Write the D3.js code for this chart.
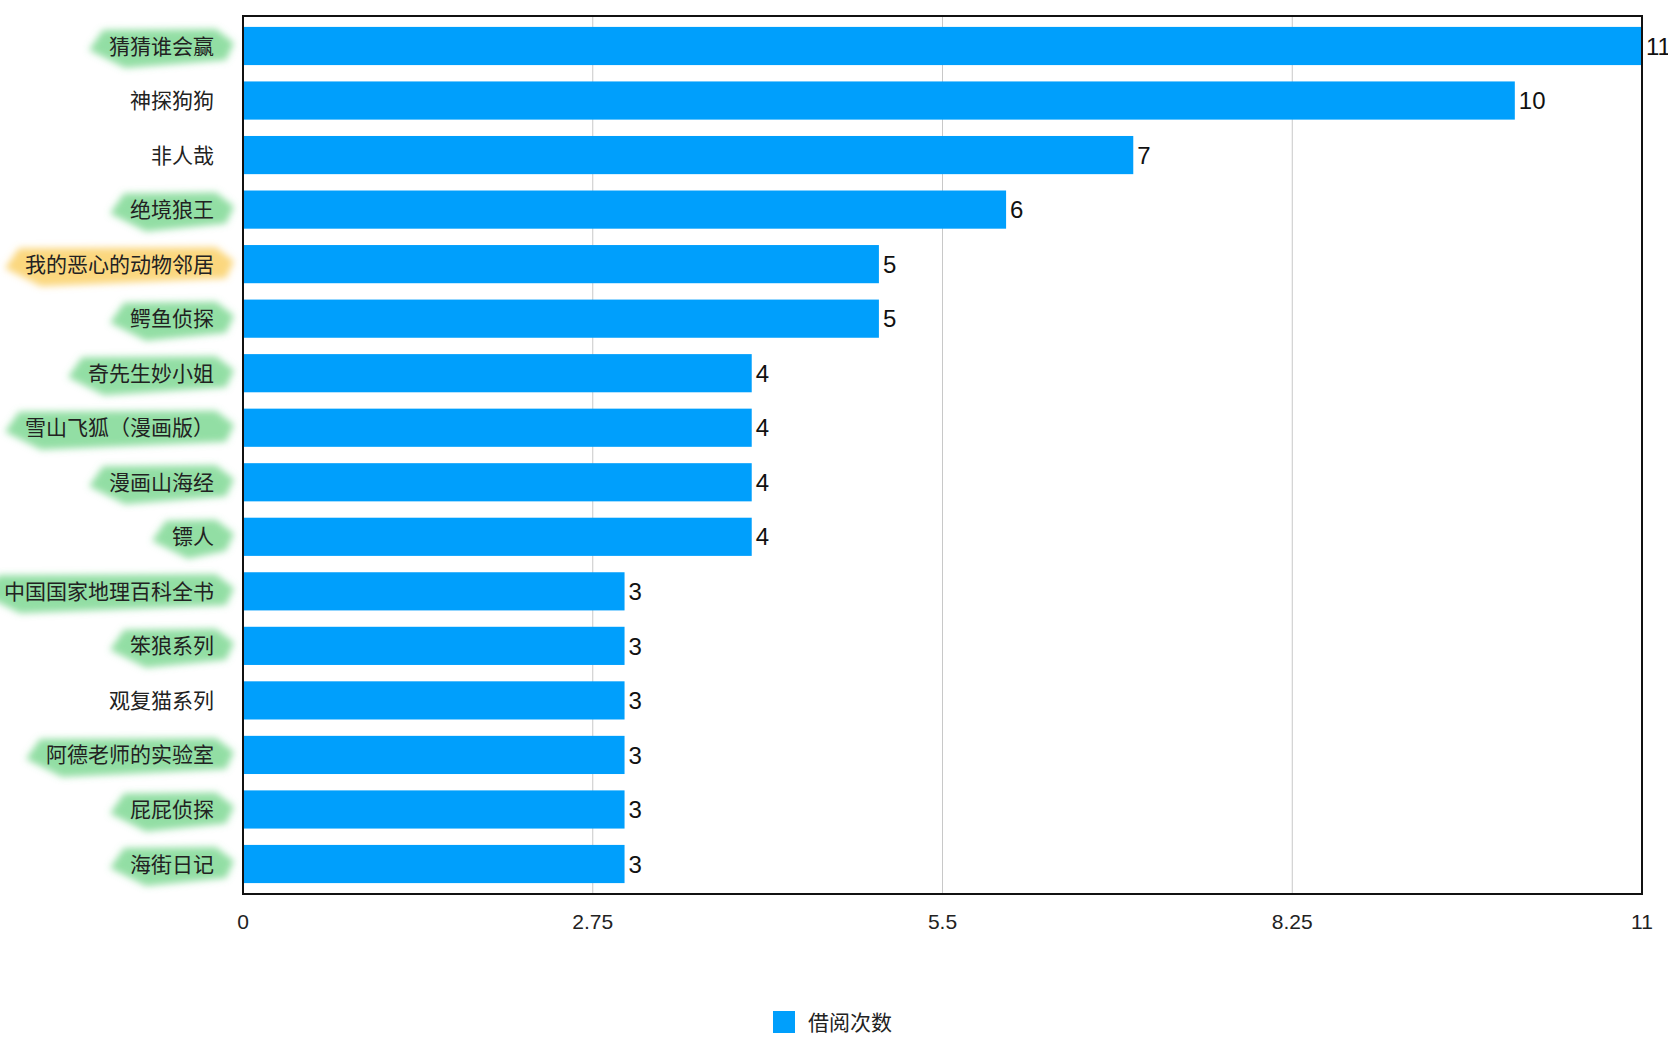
<!DOCTYPE html>
<html>
<head>
<meta charset="utf-8">
<script src="https://cdn.jsdelivr.net/npm/d3@7/dist/d3.min.js"></script>
<style>
  html, body { margin: 0; padding: 0; background: #fff; }
  svg { display: block; }
</style>
</head>
<body>
<svg id="chart" width="1668" height="1055"></svg>
<script>
// ---- data ----
const categories = [
  "猜猜谁会赢", "神探狗狗", "非人哉", "绝境狼王", "我的恶心的动物邻居", "鳄鱼侦探",
  "奇先生妙小姐", "雪山飞狐（漫画版）", "漫画山海经", "镖人", "中国国家地理百科全书",
  "笨狼系列", "观复猫系列", "阿德老师的实验室", "屁屁侦探", "海街日记"
];
const values = [11, 10, 7, 6, 5, 5, 4, 4, 4, 4, 3, 3, 3, 3, 3, 3];
const highlights = ["g", null, null, "g", "y", "g", "g", "g", "g", "g", "g", "g", null, "g", "g", "g"];
const xTicks = [0, 2.75, 5.5, 8.25, 11];
const xTickLabels = ["0", "2.75", "5.5", "8.25", "11"];
const seriesName = "借阅次数";

(function () {
// ---- layout ----
const mLeft = 243, mRight = 1642, mTop = 16, mBottom = 894;
const barColor = "#009ffc";

const svg = d3.select("#chart");

const x = d3.scaleLinear().domain([0, 11]).range([mLeft, mRight]);
const y = d3.scaleBand().domain(categories).range([mTop, mBottom])
  .paddingInner(0.3).paddingOuter(0.2);

// blur filter for highlighter strokes
const defs = svg.append("defs");
const f = defs.append("filter").attr("id", "blur").attr("x", "-20%").attr("y", "-60%")
  .attr("width", "140%").attr("height", "220%");
f.append("feGaussianBlur").attr("stdDeviation", 3.5);

// gridlines
svg.append("g").selectAll("line").data(xTicks.slice(1, -1)).join("line")
  .attr("x1", d => x(d)).attr("x2", d => x(d))
  .attr("y1", mTop).attr("y2", mBottom)
  .attr("stroke", "#c8c8c8").attr("stroke-width", 1);

// bars
svg.append("g").selectAll("rect").data(categories).join("rect")
  .attr("x", x(0))
  .attr("y", d => y(d))
  .attr("width", (d, i) => x(values[i]) - x(0))
  .attr("height", y.bandwidth())
  .attr("fill", barColor);

// value labels
svg.append("g").selectAll("text").data(categories).join("text")
  .attr("x", (d, i) => x(values[i]) + 4)
  .attr("y", d => y(d) + y.bandwidth() / 2)
  .attr("dy", "0.36em")
  .attr("font-family", "'Liberation Sans', Arial, sans-serif")
  .attr("font-size", 24)
  .attr("fill", "#111")
  .text((d, i) => values[i]);

// plot frame
svg.append("rect")
  .attr("x", mLeft).attr("y", mTop)
  .attr("width", mRight - mLeft).attr("height", mBottom - mTop)
  .attr("fill", "none").attr("stroke", "#111").attr("stroke-width", 2);

// category labels with highlighter
const labelG = svg.append("g");
const labelFont = 21;
categories.forEach((c, i) => {
  const cy = y(c) + y.bandwidth() / 2;
  const t = labelG.append("text")
    .attr("x", 214).attr("y", cy).attr("dy", "0.36em")
    .attr("text-anchor", "end")
    .attr("font-family", "'Noto Sans CJK SC', sans-serif")
    .attr("font-size", labelFont)
    .attr("fill", "#222")
    .text(c);
  const h = highlights[i];
  if (h) {
    const bb = t.node().getBBox();
    const x0 = bb.x - 24, x1 = 234;
    const col = h === "g" ? "rgba(100,208,125,0.7)" : "rgba(250,205,95,0.8)";
    const p = d3.path();
    p.moveTo(x0 + 18, cy - 16);
    p.lineTo(x1 - 18, cy - 17);
    p.lineTo(x1, cy - 3);
    p.lineTo(x1 - 8, cy + 14);
    p.lineTo(x0 + 40, cy + 22);
    p.lineTo(x0 + 4, cy + 4);
    p.closePath();
    labelG.insert("path", () => t.node())
      .attr("d", p.toString())
      .attr("fill", col)
      .attr("filter", "url(#blur)");
  }
});

// x tick labels
svg.append("g").selectAll("text").data(xTicks).join("text")
  .attr("x", d => x(d))
  .attr("y", 922).attr("dy", "0.35em")
  .attr("text-anchor", "middle")
  .attr("font-family", "'Liberation Sans Narrow', 'Liberation Sans', Arial, sans-serif")
  .attr("font-size", 21)
  .attr("fill", "#222")
  .text((d, i) => xTickLabels[i]);

// legend
const lg = svg.append("g");
lg.append("rect").attr("x", 773).attr("y", 1011).attr("width", 22).attr("height", 22).attr("fill", barColor);
lg.append("text").attr("x", 808).attr("y", 1022).attr("dy", "0.36em")
  .attr("font-family", "'Noto Sans CJK SC', sans-serif")
  .attr("font-size", 21).attr("fill", "#222")
  .text(seriesName);
})();
</script>
</body>
</html>
